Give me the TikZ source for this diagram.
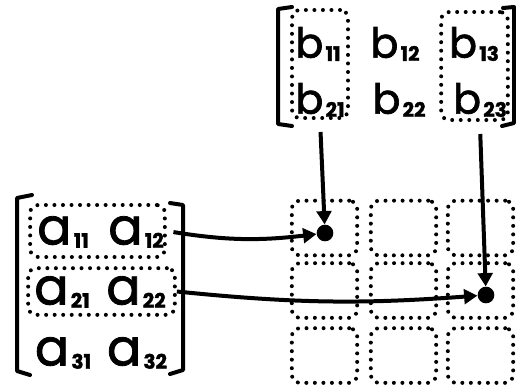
\documentclass[tikz,border=0pt]{standalone}
\usepackage{fontspec}
\setmainfont{Poppins}[FakeBold=1.6]
\usetikzlibrary{arrows.meta}

\newcommand{\ent}[3]{{\fontsize{#1}{#1}\selectfont #2}\,\raisebox{-.45ex}{\fontsize{15}{15}\selectfont\bfseries #3}}

\begin{document}
\begin{tikzpicture}[x=.75pt,y=-.75pt]
  \path[use as bounding box] (0,0) rectangle (516,387);
  \fill[white] (0,0) rectangle (516,387);

  \tikzset{dots/.style n args={2}{draw,line width=3pt,line cap=round,
    dash pattern=on 0pt off 6.4pt,rounded corners=6pt,minimum width=#1,minimum height=#2,inner sep=0pt},
    brk/.style={line width=3pt,line cap=round,line join=round},
    arrow/.style={-{Triangle[length=10pt,width=11pt]},line width=3pt},
    dot/.style={circle,fill=black,minimum size=12.5pt,inner sep=0pt}}

  % matrix B
  \draw[brk] (292,7) -- (278,9) -- (278,124) -- (292,126);
  \draw[brk] (503,8) -- (514,7) -- (514,123) -- (502,126);
  \node (b11) at (318,44) {\ent{31}{b}{11}};
  \node (b12) at (395,44) {\ent{31}{b}{12}};
  \node (b13) at (474,44) {\ent{31}{b}{13}};
  \node (b21) at (320,100) {\ent{31}{b}{21}};
  \node (b22) at (399,100) {\ent{31}{b}{22}};
  \node (b23) at (480,100) {\ent{31}{b}{23}};
  \node[dots={42pt}{81pt}] (bcol1) at (320,64) {};
  \node[dots={50pt}{81pt}] (bcol3) at (474.5,66) {};

  % matrix A
  \draw[brk] (32,195) -- (17,198) -- (17,371) -- (30,375);
  \draw[brk] (170,203) -- (183,205) -- (183,370) -- (170,374);
  \node (a11) at (63,232) {\ent{38}{a}{11}};
  \node (a12) at (136,232) {\ent{38}{a}{12}};
  \node (a21) at (62,292) {\ent{38}{a}{21}};
  \node (a22) at (136,292) {\ent{38}{a}{22}};
  \node (a31) at (63,353) {\ent{38}{a}{31}};
  \node (a32) at (137,353) {\ent{38}{a}{32}};
  \node[dots={101pt}{39pt}] (arow1) at (97.5,231) {};
  \node[dots={110pt}{35pt}] (arow2) at (101.5,291.5) {};

  % product grid
  \foreach \i/\y in {1/228,2/290.5,3/355.5}
    \foreach \j/\x in {1/324.5,2/403.5,3/480.5}
      \node[dots={49pt}{41pt}] (c\i\j) at (\x,\y) {};
  \node[dot] (d11) at (325,233) {};
  \node[dot] (d23) at (486,295) {};

  \draw[arrow,shorten <=9pt] (bcol1.south) -- (d11);
  \draw[arrow,shorten <=9pt] ([xshift=4pt]bcol3.south) -- (d23);
  \draw[arrow,shorten <=5pt] (arow1.east) to[bend right=8] (d11);
  \draw[arrow] (arow2.east) to[bend right=5] (d23);
\end{tikzpicture}
\end{document}
